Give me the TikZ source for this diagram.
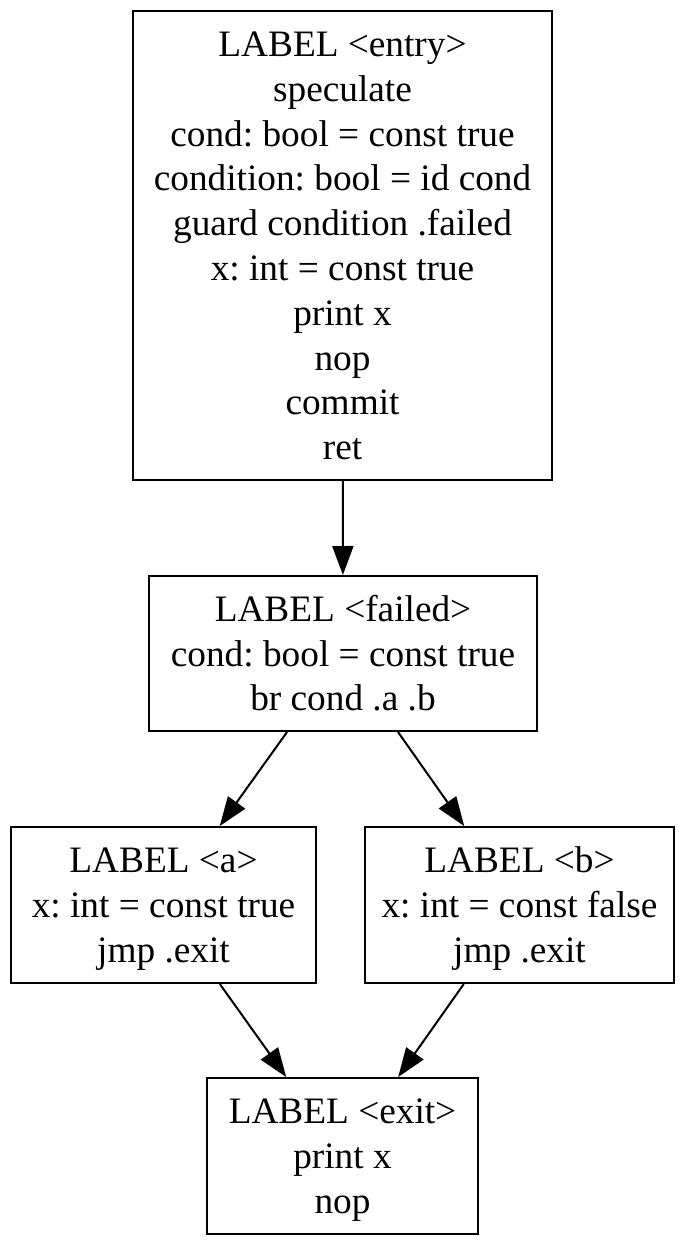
\documentclass[tikz,border=0pt]{standalone}
\usepackage{fontspec}
\setmainfont{Liberation Serif}
\usetikzlibrary{arrows.meta}
\frenchspacing
\newcommand\topS{\rule{0pt}{35pt}}
\newcommand\botS{\rule[-10pt]{0pt}{10pt}}
\begin{document}
\begin{tikzpicture}[x=1pt,y=-1pt,
  blk/.style={draw, line width=2pt, inner sep=0pt, align=center,
    font=\fontsize{37.3}{44.8}\selectfont\frenchspacing},
  edge/.style={line width=2pt, -{Triangle[length=29pt,width=21pt]}}]
\useasboundingbox (0,0) rectangle (694,1246);
\node[blk, minimum width=419pt, minimum height=469pt] (entry) at (342.5,245.5)
  {\topS LABEL <entry>\\speculate\\cond: bool = const true\\condition: bool = id cond\\guard condition .failed\\x: int = const true\\print x\\nop\\commit\\ret\botS};
\node[blk, minimum width=388pt, minimum height=155pt] (failed) at (343,653.5)
  {\topS LABEL <failed>\\cond: bool = const true\\br cond .a .b\botS};
\node[blk, minimum width=305pt, minimum height=156pt] (a) at (163.5,905)
  {\topS LABEL <a>\\x: int = const true\\jmp .exit\botS};
\node[blk, minimum width=309pt, minimum height=156pt] (b) at (519.5,905)
  {\topS LABEL <b>\\x: int = const false\\jmp .exit\botS};
\node[blk, minimum width=271pt, minimum height=156pt] (exit) at (342.5,1156)
  {\topS LABEL <exit>\\print x\\nop\botS};
\draw[edge] (entry) -- (failed);
\draw[edge] (failed) -- (a);
\draw[edge] (failed) -- (b);
\draw[edge] (a) -- (exit);
\draw[edge] (b) -- (exit);
\end{tikzpicture}
\end{document}
